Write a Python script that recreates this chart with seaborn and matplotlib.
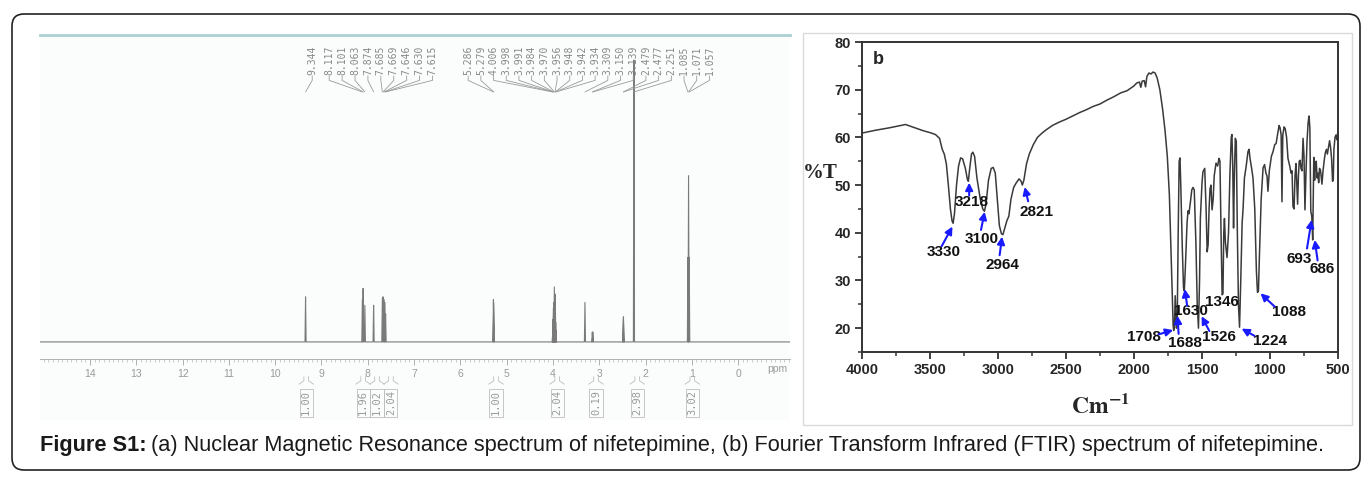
import matplotlib
matplotlib.use('Agg')
import matplotlib.pyplot as plt
import matplotlib.transforms as mtransforms
from matplotlib.patches import FancyBboxPatch, Rectangle
from matplotlib.ticker import MultipleLocator, FixedLocator
import pandas as pd
import seaborn as sns

# ================= 1. 数据 =================
# (a) 1H NMR 峰表: 化学位移 (ppm) 与相对峰高 (2.251 峰 = 100)
nmr_ppm = [9.344, 8.117, 8.101, 8.063, 7.874, 7.685, 7.669, 7.646, 7.630, 7.615,
           5.286, 5.279, 4.006, 3.998, 3.991, 3.984, 3.970, 3.956, 3.948, 3.942,
           3.934, 3.309, 3.150, 3.139, 2.479, 2.477, 2.251, 1.085, 1.071, 1.057]
nmr_height = [16, 15, 19, 13, 13, 15.5, 16, 15, 14, 10,
              15, 14, 3, 8, 12, 14, 19.5, 17, 12, 7,
              4, 14, 3.5, 3.5, 9, 8.5, 100, 30, 59, 30]

# 积分值
integ_ppm = [9.33, 8.10, 7.80, 7.50, 5.23, 3.91, 3.07, 2.18, 0.99]
integ_val = ['1.00', '1.96', '1.02', '2.04', '1.00', '2.04', '0.19', '2.98', '3.02']

# (b) FTIR: 波数 (cm-1) 与 %T
ir_wn = [4000, 3900, 3800, 3750, 3700, 3680, 3650, 3600, 3550, 3500,
         3460, 3430, 3410, 3395, 3380, 3365, 3350, 3338, 3330, 3320,
         3305, 3290, 3275, 3260, 3240, 3225, 3218, 3208, 3195, 3185,
         3172, 3155, 3130, 3112, 3100, 3088, 3070, 3050, 3035, 3020,
         3005, 2990, 2975, 2964, 2950, 2935, 2920, 2905, 2885, 2865,
         2845, 2830, 2821, 2810, 2790, 2770, 2740, 2710, 2680, 2650,
         2600, 2550, 2500, 2450, 2400, 2350, 2300, 2250, 2200, 2150,
         2100, 2050, 2000, 1980, 1960, 1950, 1940, 1925, 1915, 1905,
         1890, 1875, 1860, 1845, 1830, 1810, 1790, 1772, 1755, 1740,
         1728, 1718, 1712, 1708, 1702, 1697, 1692, 1688, 1682, 1675,
         1668, 1662, 1656, 1645, 1636, 1630, 1622, 1610, 1603, 1596,
         1585, 1575, 1566, 1557, 1545, 1535, 1526, 1518, 1512, 1500,
         1493, 1480, 1470, 1462, 1455, 1448, 1441, 1434, 1426, 1418,
         1410, 1397, 1385, 1375, 1368, 1360, 1352, 1346, 1340, 1335,
         1328, 1316, 1305, 1295, 1285, 1280, 1274, 1268, 1262, 1255,
         1248, 1240, 1232, 1224, 1215, 1205, 1198, 1188, 1175, 1162,
         1154, 1147, 1135, 1125, 1112, 1100, 1092, 1085, 1078, 1065,
         1051, 1040, 1030, 1022, 1015, 1005, 990, 978, 965, 955,
         945, 933, 926, 918, 912, 906, 896, 888, 878, 868,
         855, 845, 838, 831, 823, 816, 809, 803, 797, 791,
         785, 779, 772, 765, 757, 750, 743, 736, 728, 720,
         713, 707, 700, 693, 688, 686, 682, 678, 672, 666,
         660, 654, 648, 642, 636, 628, 618, 610, 600, 593,
         585, 578, 569, 562, 555, 547, 540, 535, 530, 522,
         515, 508, 500]
ir_t = [60.9, 61.5, 62.0, 62.3, 62.6, 62.7, 62.4, 61.9, 61.4, 61.0,
        60.6, 59.8, 57.5, 56.5, 54.5, 50.0, 45.0, 42.5, 42.0, 44.0,
        50.0, 54.0, 55.7, 55.5, 53.5, 51.2, 50.8, 53.5, 56.5, 56.9,
        56.0, 51.5, 47.0, 45.0, 44.5, 46.0, 51.0, 53.5, 53.7, 52.5,
        47.0, 41.5, 39.8, 39.6, 41.0, 42.5, 43.5, 47.0, 49.5, 50.5,
        51.3, 50.8, 50.0, 51.0, 54.5, 56.5, 58.5, 60.0, 60.8, 61.5,
        62.5, 63.2, 63.8, 64.5, 65.2, 65.8, 66.5, 67.0, 67.8, 68.5,
        69.3, 69.8, 70.8, 71.4, 71.6, 70.5, 71.8, 71.9, 70.6, 72.8,
        73.5, 73.3, 73.7, 73.5, 72.5, 70.0, 66.0, 61.5, 56.0, 48.0,
        36.0, 26.0, 20.5, 19.5, 21.0, 26.8, 23.0, 20.0, 22.0, 40.0,
        55.0, 55.7, 50.0, 37.0, 28.5, 27.8, 33.0, 42.0, 44.6, 44.0,
        46.5, 49.0, 49.5, 49.0, 38.0, 25.0, 20.0, 30.0, 43.0, 50.5,
        52.8, 53.5, 45.0, 36.0, 37.5, 45.0, 49.2, 50.0, 44.8, 47.0,
        52.0, 54.6, 54.0, 55.6, 55.0, 40.0, 27.0, 27.2, 40.0, 43.0,
        38.0, 34.8, 40.0, 52.0, 60.0, 60.6, 54.0, 41.0, 52.0, 59.8,
        59.2, 40.0, 25.0, 20.2, 30.0, 42.0, 45.0, 51.5, 54.0, 57.0,
        57.5, 55.6, 53.5, 51.5, 45.0, 32.0, 27.5, 27.8, 35.0, 47.0,
        53.6, 54.3, 52.5, 51.9, 48.7, 53.0, 56.0, 57.0, 58.5, 58.7,
        60.5, 62.5, 62.0, 60.5, 46.5, 60.5, 62.2, 61.8, 60.0, 55.6,
        54.0, 52.5, 53.0, 45.5, 45.0, 52.0, 54.5, 50.0, 46.0, 52.0,
        55.0, 55.2, 53.5, 53.0, 59.8, 56.0, 44.8, 52.0, 59.0, 63.0,
        64.5, 62.0, 44.5, 43.5, 40.0, 38.5, 47.0, 55.8, 51.0, 54.5,
        55.0, 51.5, 52.5, 50.5, 53.5, 53.0, 50.2, 53.0, 55.5, 56.8,
        57.5, 56.5, 58.0, 59.3, 58.0, 55.5, 50.8, 51.0, 57.5, 60.0,
        60.5, 59.5, 61.5]

ir_peaks = ['3330', '3218', '3100', '2964', '2821', '1708', '1688',
            '1630', '1526', '1346', '1224', '1088', '693', '686']

# 标注布局: 文字位置 / 箭头尾 / 箭头头 (数据坐标)
ir_text_pos = [(3396, 36.0), (3190, 46.5), (3120, 38.7), (2970, 33.2), (2717, 44.4),
               (1929, 18.2), (1622, 16.8), (1582, 23.5), (1372, 18.2), (1351, 25.4),
               (999, 17.3), (860, 23.3), (789, 34.6), (615, 32.5)]
ir_arrows = [((3414, 37.2), (3335, 41.3)), ((3212, 47.8), (3212, 50.5)),
             ((3125, 40.6), (3098, 44.4)), ((2988, 35.3), (2970, 39.2)),
             ((2778, 46.6), (2804, 49.6)), ((1819, 18.7), (1712, 19.6)),
             ((1672, 18.8), (1680, 22.6)), ((1609, 24.7), (1627, 28.2)),
             ((1446, 19.4), (1503, 22.5)), None,
             ((1115, 18.4), (1209, 19.9)), ((965, 24.5), (1070, 27.3)),
             ((728, 36.7), (694, 42.7)), ((650, 34.2), (671, 38.5))]

# ================= 2. 样式 =================
sns.set_theme(style='white')
plt.rcParams['font.family'] = ['Liberation Sans', 'DejaVu Sans']
plt.rcParams['mathtext.fontset'] = 'stix'
SANS = ['Liberation Sans', 'DejaVu Sans']
SERIF = ['Liberation Serif', 'DejaVu Serif']
MONO = ['DejaVu Sans Mono']

W, H = 1367, 480
fig = plt.figure(figsize=(W / 100, H / 100), dpi=100)
ident = mtransforms.IdentityTransform()


def fig_box(x0, y0, x1, y1):
    # 像素框 (左上原点) -> add_axes 的 rect
    return [x0 / W, 1 - y1 / H, (x1 - x0) / W, (y1 - y0) / H]


# 外框 (圆角)
fig.add_artist(FancyBboxPatch((12, 10), 1348, 456, boxstyle='round,pad=0,rounding_size=12',
                              transform=ident, fc='none', ec='#222222', lw=1.2))

# ================= 3. (a) NMR =================
ax_a = fig.add_axes(fig_box(40, 35, 790, 420))
ax_a.set_facecolor('#fbfcfc')

trace_x, trace_y = [15.08], [0.0]
for p, h in sorted(zip(nmr_ppm, nmr_height), reverse=True):
    trace_x += [p + 0.012, p, p - 0.012]
    trace_y += [0.0, h, 0.0]
trace_x.append(-1.12)
trace_y.append(0.0)
df_nmr = pd.DataFrame({'ppm': trace_x, 'intensity': trace_y})
sns.lineplot(data=df_nmr, x='ppm', y='intensity', sort=False, estimator=None,
             color='#7a7a7a', lw=0.8, ax=ax_a)

ax_a.set_xlim(15.08, -1.12)
ax_a.set_ylim(-27.7, 108.9)
ax_a.set_xlabel('')
ax_a.set_ylabel('')
ax_a.set_yticks([])
for s in ['left', 'right']:
    ax_a.spines[s].set_visible(False)
ax_a.spines['top'].set_color('#a9d0d3')
ax_a.spines['top'].set_linewidth(2)
ax_a.spines['bottom'].set_position(('data', -6))
ax_a.spines['bottom'].set_color('#b0b0b0')
ax_a.spines['bottom'].set_linewidth(0.7)
ax_a.xaxis.set_major_locator(FixedLocator(range(0, 15)))
ax_a.xaxis.set_minor_locator(MultipleLocator(0.1))
ax_a.xaxis.set_major_formatter(lambda v, pos: f'{v:.0f}')
ax_a.tick_params(axis='x', which='major', bottom=True, direction='out', length=4,
                 width=0.7, color='#b0b0b0', labelsize=7.5, labelcolor='#9a9a9a', pad=3)
ax_a.tick_params(axis='x', which='minor', bottom=True, direction='out', length=2,
                 width=0.5, color='#b8b8b8')
ax_a.text(-0.85, -9.6, 'ppm', fontsize=7.5, color='#9a9a9a', ha='center', va='center')

# 峰位标签 (顶部)
label_x = [9.20] + [8.834 - 0.279 * i for i in range(9)] + [5.832 - 0.2743 * i for i in range(20)]
for lx, p in zip(label_x, nmr_ppm):
    ax_a.text(lx, 94.8, f'{p:.3f}', rotation=90, ha='center', va='bottom',
              family=MONO, fontsize=7, color='#888888')
    ax_a.plot([lx, lx, p], [94.4, 92.8, 88.7], color='#9a9a9a', lw=0.6)

# 积分
for p, v in zip(integ_ppm, integ_val):
    ax_a.text(p, -21.6, v, rotation=90, ha='center', va='center', family=MONO,
              fontsize=7.5, color='#9a9a9a',
              bbox=dict(boxstyle='square,pad=0.15', fc='none', ec='#bdbdbd', lw=0.6))
    for sgn in (-1, 1):
        ax_a.plot([p + sgn * 0.05, p + sgn * 0.05, p + sgn * 0.16], [-12.3, -13.8, -15.0],
                  color='#bdbdbd', lw=0.6)

# ================= 4. (b) FTIR =================
fig.add_artist(Rectangle((803, H - 425), 549, 392, transform=ident,
                         fc='none', ec='#dadada', lw=1))
ax_b = fig.add_axes(fig_box(862, 42, 1338, 352))
df_ir = pd.DataFrame({'wavenumber': ir_wn, 'T': ir_t})
sns.lineplot(data=df_ir, x='wavenumber', y='T', sort=False, estimator=None,
             color='#3a3a3a', lw=1.1, ax=ax_b)
ax_b.set_xlim(4000, 500)
ax_b.set_ylim(15, 80)
ax_b.xaxis.set_major_locator(MultipleLocator(500))
ax_b.xaxis.set_minor_locator(MultipleLocator(250))
ax_b.yaxis.set_major_locator(MultipleLocator(10))
ax_b.yaxis.set_minor_locator(MultipleLocator(5))
ax_b.tick_params(which='major', bottom=True, left=True, top=False, right=False,
                 direction='out', length=5, width=1.3, color='#333333', labelsize=10.5, pad=3)
ax_b.tick_params(which='minor', bottom=True, left=True, top=False, right=False,
                 direction='out', length=3, width=1.1, color='#333333')
plt.setp(ax_b.get_xticklabels() + ax_b.get_yticklabels(), fontweight='bold', family=SANS)
for s in ax_b.spines.values():
    s.set_linewidth(1.4)
    s.set_color('#333333')
ax_b.set_ylabel('')
ax_b.set_xlabel(r'$\mathbf{Cm^{-1}}$', fontsize=17)
ax_b.xaxis.set_label_coords(0.5, -0.135)
ax_b.text(-0.088, 52.5, '%T', transform=ax_b.get_yaxis_transform(), family=SERIF,
          fontweight='bold', fontsize=15, ha='center', va='center')
ax_b.text(3880, 76.3, 'b', fontweight='bold', fontsize=13, ha='center', va='center')

for lab, tp, arr in zip(ir_peaks, ir_text_pos, ir_arrows):
    ax_b.text(tp[0], tp[1], lab, fontweight='bold', fontsize=11, family=SANS,
              ha='center', va='center', color='#111111')
    if arr is not None:
        ax_b.annotate('', xy=arr[1], xytext=arr[0],
                      arrowprops=dict(arrowstyle='-|>', color='#1a1aff', lw=1.5,
                                      mutation_scale=11, shrinkA=0, shrinkB=0))

# ================= 5. 图注 =================
cap_y = 1 - 446 / H
renderer = fig.canvas.get_renderer()
fs = 13.0
cap1 = fig.text(40 / W, cap_y, 'Figure S1:', fontweight='bold', fontsize=fs,
                family=SANS, va='center', color='#1a1a1a')
cap2 = fig.text(0, cap_y, '(a) Nuclear Magnetic Resonance spectrum of nifetepimine, '
                '(b) Fourier Transform Infrared (FTIR) spectrum of nifetepimine.',
                fontsize=fs, family=SANS, va='center', color='#1a1a1a')


def place_caption(size):
    cap1.set_fontsize(size)
    cap2.set_fontsize(size)
    bb = cap1.get_window_extent(renderer)
    cap2.set_x((bb.x1 + size * 0.3) / W)
    return cap2.get_window_extent(renderer).x1


end = place_caption(fs)
fs = fs * (1328 - 40) / (end - 40)
place_caption(fs)

fig.savefig('out.png', dpi=100, facecolor='white')
